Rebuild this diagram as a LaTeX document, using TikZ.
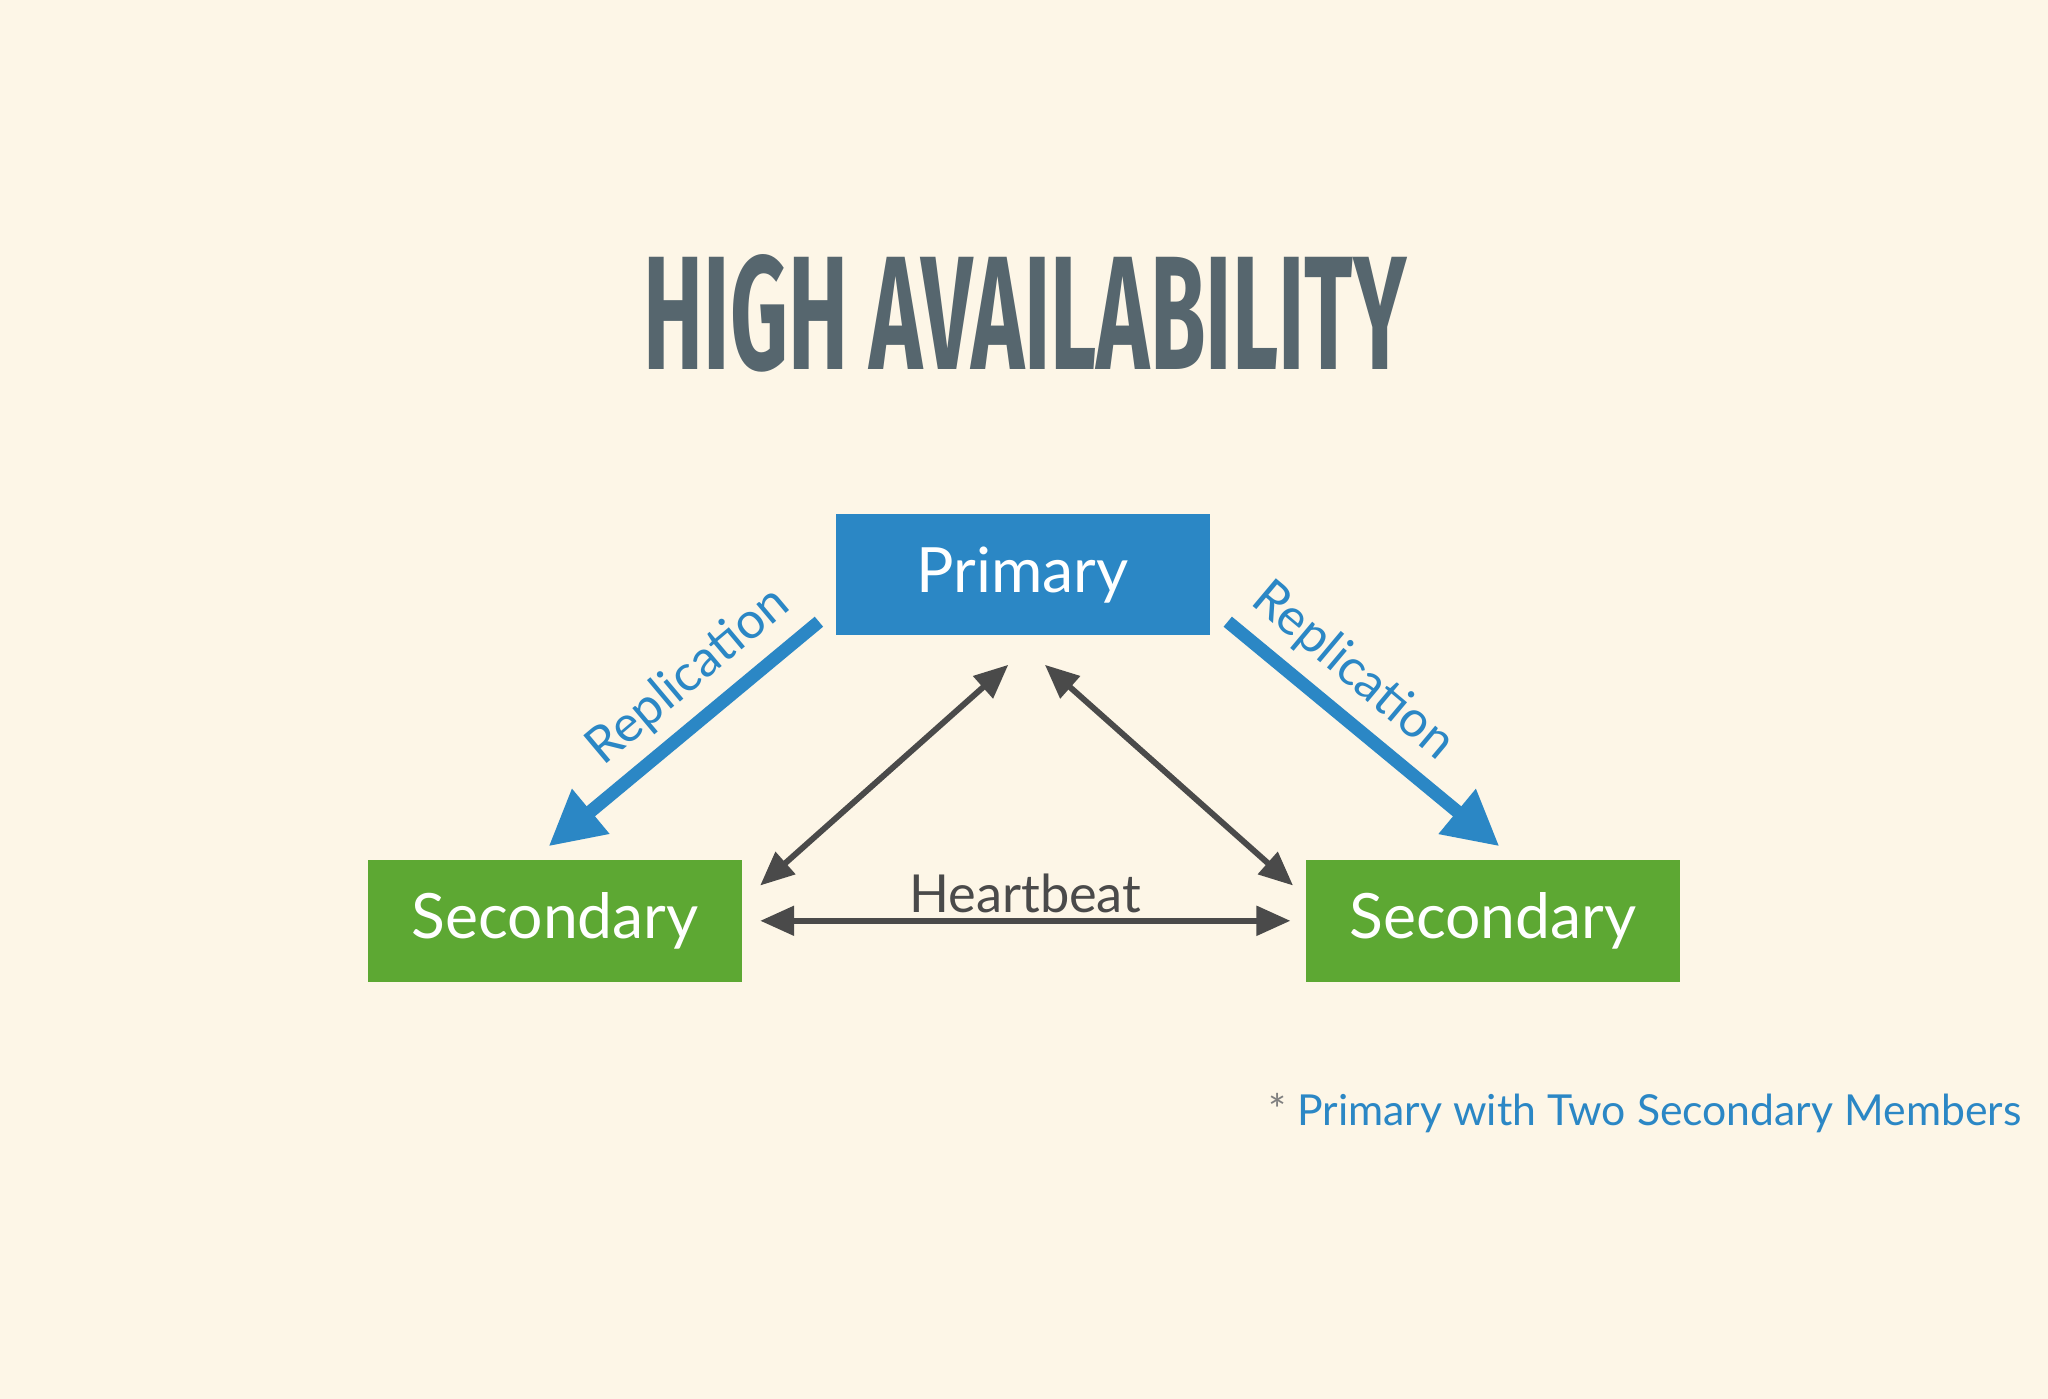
\documentclass[tikz,border=0pt]{standalone}
\usepackage{fontspec}
\setmainfont{Lato}
\newfontfamily\titlefont{Fira Sans}
\usetikzlibrary{arrows.meta}
\definecolor{bg}{HTML}{FDF6E7}
\definecolor{ttl}{HTML}{56666E}
\definecolor{blu}{HTML}{2B87C5}
\definecolor{grn}{HTML}{5DA833}
\definecolor{dk}{HTML}{4A4A4A}
\tikzset{
 box/.style={minimum width=2.86cm,minimum height=0.93cm,text=white,font=\fontsize{13.6}{16}\selectfont,inner sep=0pt},
 rep/.style={blu,line width=0.1cm,-{Triangle[length=0.42cm,width=0.42cm]}},
 hb/.style={dk,line width=0.045cm,{Triangle[length=0.26cm,width=0.22cm]}-{Triangle[length=0.26cm,width=0.22cm]}},
 lbl/.style={text=blu,font=\fontsize{11}{13}\selectfont}
}
\begin{document}
\begin{tikzpicture}[x=0.01cm,y=-0.01cm]
\fill[bg] (0,0) rectangle (1568,1071);
\node[text=ttl] (title) at (785,240) {\resizebox{5.84cm}{0.88cm}{\titlefont\bfseries HIGH AVAILABILITY}};
\node[box,fill=blu] (p) at (783,440) {Primary};
\node[box,fill=grn] (s1) at (425,705) {Secondary};
\node[box,fill=grn] (s2) at (1143,705) {Secondary};
\coordinate (a1) at (627,476); \coordinate (a2) at (420,648);
\coordinate (b1) at (940,476); \coordinate (b2) at (1148,648);
\draw[rep] (a1) -- (a2);
\draw[rep] (b1) -- (b2);
\node[lbl,rotate=40] (r1) at (527,518) {Replication};
\node[lbl,rotate=-40] (r2) at (1036,514) {Replication};
\coordinate (c1) at (582,678); \coordinate (c2) at (772,509);
\coordinate (d1) at (800,509); \coordinate (d2) at (990,678);
\coordinate (e1) at (582,705); \coordinate (e2) at (988,705);
\draw[hb] (c1) -- (c2);
\draw[hb] (d1) -- (d2);
\draw[hb] (e1) -- (e2);
\node[text=dk,font=\fontsize{11.4}{14}\selectfont] (h) at (785,684) {Heartbeat};
\node[anchor=east,font=\fontsize{9.3}{12}\selectfont] (f) at (1560,852) {\textcolor{gray}{*} \textcolor{blu}{Primary with Two Secondary Members}};
\end{tikzpicture}
\end{document}
